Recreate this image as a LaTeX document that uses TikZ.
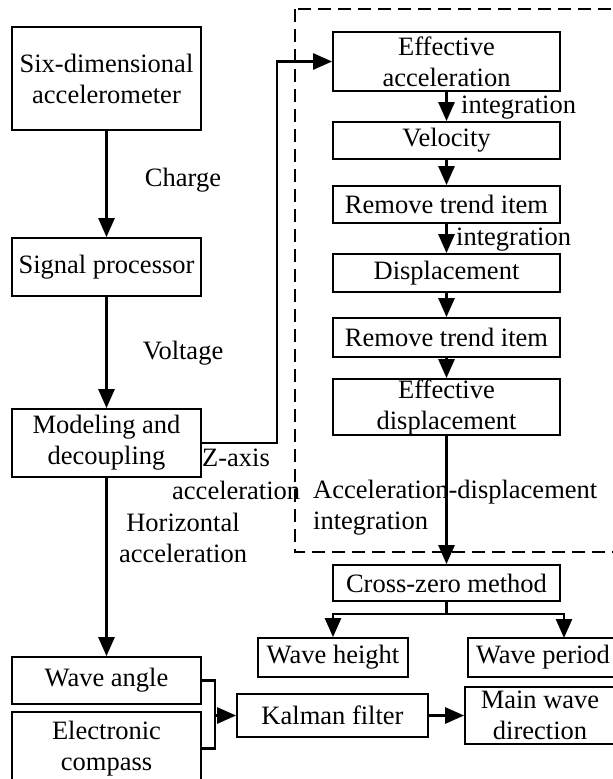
\documentclass[tikz,border=0pt]{standalone}
\usepackage{fontspec}
\setmainfont{Liberation Serif}
\usetikzlibrary{arrows.meta}
\begin{document}
\begin{tikzpicture}[x=1pt,y=-1pt,
  box/.style={draw, line width=1.8pt, inner sep=0pt, align=center, font=\fontsize{26.5}{31}\selectfont},
  lbl/.style={inner sep=0pt, font=\fontsize{26.5}{31}\selectfont},
  conn/.style={line width=2.8pt, -{Triangle[length=19pt,width=16pt]}},
  plainline/.style={line width=2.8pt},
  dashbox/.style={line width=1.8pt, dash pattern=on 13pt off 7pt}]
\useasboundingbox (0,0) rectangle (613,779);
\clip (0,0) rectangle (613,779);
% dashed region
\draw[dashbox] (295,9) rectangle (630,552);
% left column
\node[box, minimum width=189pt, minimum height=103pt] (six) at (106.5,78.5) {Six-dimensional\\accelerometer};
\node[box, minimum width=189pt, minimum height=58pt] (sig) at (106.5,267) {Signal processor};
\node[box, minimum width=189pt, minimum height=68pt] (mod) at (106.5,443) {Modeling and\\decoupling};
\node[box, minimum width=189pt, minimum height=47pt] (wang) at (106.5,680.5) {Wave angle};
\node[box, minimum width=189pt, minimum height=73pt] (comp) at (106.5,748.5) {Electronic\\compass};
% right column
\node[box, minimum width=227pt, minimum height=59pt] (effacc) at (446.5,61.5) {Effective\\acceleration};
\node[box, minimum width=227pt, minimum height=37pt] (vel) at (446.5,140.5) {Velocity};
\node[box, minimum width=227pt, minimum height=37pt] (rt1) at (446.5,204.5) {Remove trend item};
\node[box, minimum width=227pt, minimum height=38pt] (disp) at (446.5,273) {Displacement};
\node[box, minimum width=227pt, minimum height=39pt] (rt2) at (446.5,337.5) {Remove trend item};
\node[box, minimum width=227pt, minimum height=56pt] (effdisp) at (446.5,407) {Effective\\displacement};
\node[box, minimum width=227pt, minimum height=36pt] (cz) at (446.5,583) {Cross-zero method};
\node[box, minimum width=150pt, minimum height=39pt] (wh) at (333,657.5) {Wave height};
\node[box, minimum width=150pt, minimum height=39pt] (wp) at (543,657.5) {Wave period};
\node[box, minimum width=191pt, minimum height=43pt] (kal) at (332.5,715.5) {Kalman filter};
\node[box, minimum width=150pt, minimum height=57pt] (mwd) at (540,715.5) {Main wave\\direction};
% labels
\node[lbl] (charge) at (183,180) {Charge};
\node[lbl] (volt) at (183,353) {Voltage};
\node[lbl, anchor=west] (zlab1) at (202,458) {Z-axis};
\node[lbl, anchor=west] (zlab2) at (172,490) {acceleration};
\node[lbl, align=center] (hlab) at (183,537.5) {Horizontal\\acceleration};
\node[lbl, align=left, anchor=west] (adlab) at (313,507.5) {Acceleration-displacement\\integration};
\node[lbl, anchor=west] (int1) at (461,108) {integration};
\node[lbl, anchor=west] (int2) at (456,240) {integration};
% connectors
\draw[conn] (six) -- (sig);
\draw[conn] (sig) -- (mod);
\coordinate (zc) at (277,443);
\draw[conn] (mod.east) -- (zc) |- (effacc.west);
\draw[conn] (mod) -- (wang);
\draw[conn] (effacc) -- (vel);
\draw[conn] (vel) -- (rt1);
\draw[conn] (rt1) -- (disp);
\draw[conn] (disp) -- (rt2);
\draw[conn] (rt2) -- (effdisp);
\draw[conn] (effdisp) -- (cz);
\coordinate (split) at (446.5,614);
\coordinate (wpin) at (564,638);
\draw[plainline] (cz.south) -- (split);
\draw[conn] (split) -| (wh.north);
\draw[conn] (split) -| (wpin);
\coordinate (bj) at (215,715.5);
\draw[plainline] (wang.east) -| (bj);
\draw[plainline] (comp.east) -| (bj);
\draw[conn] (bj) -- (kal.west);
\draw[conn] (kal) -- (mwd);
\end{tikzpicture}
\end{document}
